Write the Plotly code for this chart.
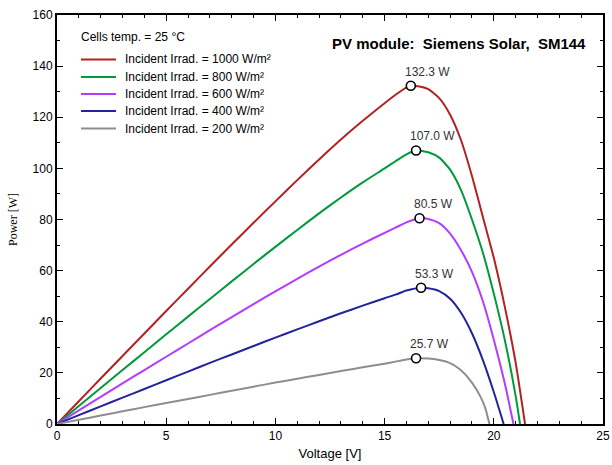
import plotly.graph_objects as go

# ---- data ----
series_names = [
    "Incident Irrad. = 1000 W/m²",
    "Incident Irrad. = 800 W/m²",
    "Incident Irrad. = 600 W/m²",
    "Incident Irrad. = 400 W/m²",
    "Incident Irrad. = 200 W/m²",
]
series_colors = ["#B22222", "#009A3A", "#B23CFF", "#23239A", "#8E8E8E"]

v_1000 = [0, 1, 2, 3, 4, 5, 6, 7, 8, 9, 10, 11, 12, 13, 14, 15, 15.5, 16, 16.2, 16.6, 17, 17.5, 18, 18.5, 19, 19.5, 20, 20.5, 21, 21.43]
p_1000 = [0, 8.9, 17.8, 26.6, 35.4, 44.2, 52.9, 61.6, 70.2, 78.7, 87.1, 95.4, 103.5, 111.3, 118.6, 125.5, 128.8, 131.6, 132.3, 132.0, 131.0, 127.5, 121.0, 111.0, 97.0, 81.0, 65.0, 46.0, 24.0, 0]

v_800 = [0, 1, 2, 3, 4, 5, 6, 7, 8, 9, 10, 11, 12, 13, 14, 15, 15.5, 16, 16.44, 17, 17.5, 18, 18.5, 19, 19.5, 20, 20.5, 21, 21.2]
p_800 = [0, 7.05, 14.1, 21.1, 28.1, 35.1, 42.0, 48.9, 55.8, 62.6, 69.3, 75.9, 82.4, 88.6, 94.5, 100.0, 102.8, 105.5, 107.0, 106.3, 104.2, 99.5, 91.5, 80.0, 67.0, 51.0, 33.0, 11.0, 0]

v_600 = [0, 1, 2, 3, 4, 5, 6, 7, 8, 9, 10, 11, 12, 13, 14, 15, 15.5, 16, 16.6, 17, 17.5, 18, 18.5, 19, 19.5, 20, 20.5, 20.9]
p_600 = [0, 5.3, 10.6, 15.9, 21.1, 26.3, 31.5, 36.7, 41.8, 46.9, 51.9, 56.8, 61.6, 66.2, 70.6, 74.8, 76.8, 78.9, 80.5, 80.2, 78.6, 74.5, 68.0, 59.5, 48.0, 33.0, 16.0, 0]

v_400 = [0, 1, 2, 3, 4, 5, 6, 7, 8, 9, 10, 11, 12, 13, 14, 15, 15.5, 16, 16.67, 17, 17.5, 18, 18.5, 19, 19.5, 20, 20.45]
p_400 = [0, 3.45, 6.9, 10.3, 13.7, 17.1, 20.5, 23.9, 27.2, 30.5, 33.8, 37.0, 40.2, 43.3, 46.3, 49.2, 50.6, 52.2, 53.3, 53.1, 52.0, 49.0, 43.5, 35.5, 25.0, 12.5, 0]

v_200 = [0, 1, 2, 3, 4, 5, 6, 7, 8, 9, 10, 11, 12, 13, 14, 15, 15.5, 16, 16.44, 17, 17.5, 18, 18.5, 19, 19.4, 19.6, 19.8]
p_200 = [0, 1.65, 3.3, 4.95, 6.6, 8.2, 9.8, 11.4, 13.0, 14.6, 16.2, 17.7, 19.2, 20.7, 22.2, 23.6, 24.4, 25.2, 25.7, 25.6, 25.0, 23.8, 21.0, 16.2, 10.5, 6.5, 0]

mpp_v = [16.2, 16.44, 16.6, 16.67, 16.44]
mpp_p = [132.3, 107.0, 80.5, 53.3, 25.7]
mpp_labels = ["132.3 W", "107.0 W", "80.5 W", "53.3 W", "25.7 W"]

x_ticks = [0, 5, 10, 15, 20, 25]
y_ticks = [0, 20, 40, 60, 80, 100, 120, 140, 160]

title_text = "PV module:\u00a0\u00a0Siemens Solar,\u00a0\u00a0SM144"
legend_title = "Cells temp. = 25 °C"

# ---- layout geometry (pixels) ----
W, H = 612, 465
ML, MR, MT, MB = 57, 9, 15, 41
PW, PH = W - ML - MR, H - MT - MB


def px_x(px):
    return (px - ML) / PW


def px_y(py):
    return (H - MB - py) / PH


FONT = "Liberation Sans"

# ---- figure ----
fig = go.Figure()
all_v = [v_1000, v_800, v_600, v_400, v_200]
all_p = [p_1000, p_800, p_600, p_400, p_200]
for name, col, vv, pp in zip(series_names, series_colors, all_v, all_p):
    fig.add_trace(go.Scatter(
        x=vv, y=pp, mode="lines", name=name, showlegend=False,
        line=dict(color=col, width=2, shape="spline", smoothing=0.6),
    ))

fig.add_trace(go.Scatter(
    x=mpp_v, y=mpp_p, mode="markers", showlegend=False,
    marker=dict(symbol="circle", size=9, color="white",
                line=dict(color="black", width=1.6)),
))

for v, p, t in zip(mpp_v, mpp_p, mpp_labels):
    fig.add_annotation(
        x=v, y=p, text=t, showarrow=False, xanchor="left", yanchor="bottom",
        xshift=-8, yshift=5, font=dict(family=FONT, size=12, color="#333333"),
    )

# title
fig.add_annotation(
    xref="paper", yref="paper", x=px_x(588), y=px_y(43.5), xanchor="right", yanchor="middle",
    text="<b>" + title_text + "</b>", showarrow=False,
    font=dict(family=FONT, size=15, color="black"),
)

# manual legend (row spacing of the original is tighter than Plotly's legend allows)
fig.add_annotation(
    xref="paper", yref="paper", x=px_x(79), y=px_y(37.5), xanchor="left", yanchor="middle",
    text=legend_title, showarrow=False, font=dict(family=FONT, size=12, color="black"),
)
row_y = [59.5, 77, 94, 111, 128.5]
for name, col, ry in zip(series_names, series_colors, row_y):
    fig.add_shape(type="line", xref="paper", yref="paper",
                  x0=px_x(81), x1=px_x(116), y0=px_y(ry), y1=px_y(ry),
                  line=dict(color=col, width=2))
    fig.add_annotation(
        xref="paper", yref="paper", x=px_x(123), y=px_y(ry), xanchor="left", yanchor="middle",
        text=name, showarrow=False, font=dict(family=FONT, size=12, color="black"),
    )

axis_common = dict(
    showline=True, linecolor="black", linewidth=2, mirror="allticks",
    ticks="inside", ticklen=6, tickwidth=1, tickcolor="black",
    showgrid=False, zeroline=False, automargin=False,
    tickfont=dict(family=FONT, size=12, color="black"),
)

fig.update_xaxes(
    range=[0, 25], tickvals=x_ticks,
    minor=dict(dtick=1, ticks="inside", ticklen=3, tickcolor="black", showgrid=False),
    title=dict(text="Voltage [V]", font=dict(family=FONT, size=13, color="black"), standoff=6),
    **axis_common,
)
fig.update_yaxes(
    range=[0, 160], tickvals=y_ticks,
    minor=dict(dtick=10, ticks="inside", ticklen=3, tickcolor="black", showgrid=False),
    title=dict(text="Power [W]", font=dict(family="Liberation Serif", size=12, color="black"), standoff=12),
    **axis_common,
)

fig.update_layout(
    width=W, height=H,
    margin=dict(l=ML, r=MR, t=MT, b=MB, autoexpand=False),
    paper_bgcolor="white", plot_bgcolor="white",
    font=dict(family=FONT, size=12, color="black"),
    showlegend=False,
)

fig.write_html("out.html", config={"displayModeBar": False},
               post_script="document.body.style.margin='0';")
